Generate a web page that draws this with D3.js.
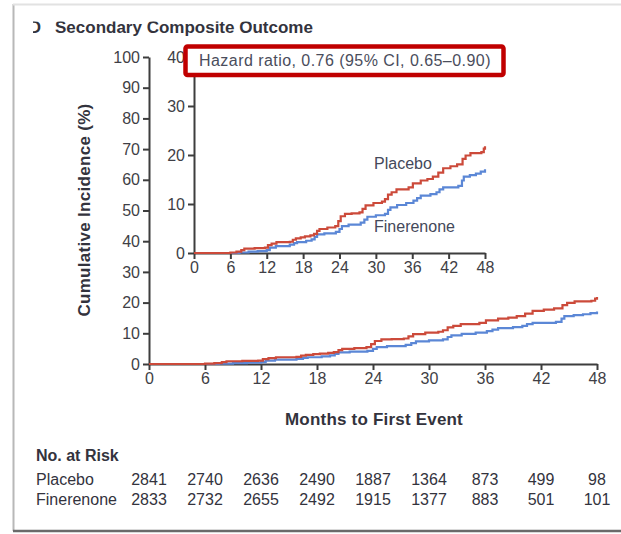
<!DOCTYPE html>
<html>
<head>
<meta charset="utf-8">
<script src="https://cdn.jsdelivr.net/npm/d3@7"></script>
<style>
    html, body { margin: 0; padding: 0; background: #fff; }
    svg { display: block; font-family: "Liberation Sans", Arial, sans-serif; }
    .tick text { fill: #3f3f46; font-size: 16px; }
</style>
</head>
<body>
<div id="chart"></div>
<script>
// Kaplan-Meier style data: [month, cumulative %]
const placebo = [
    [0, 0], [4, 0], [6, 0.1], [7, 0.3], [7.8, 0.6], [8.3, 0.9], [10, 1.0], [11.7, 1.1],
    [12.2, 1.6], [12.8, 1.9], [13.6, 2.2], [15.8, 2.3], [16.3, 2.7], [16.8, 3.0], [17.6, 3.2],
    [18.3, 3.4], [19.2, 3.6], [19.8, 3.9], [20.3, 4.5], [20.7, 4.9], [22, 5.2], [23.3, 5.5],
    [23.8, 6.5], [24.2, 7.5], [24.9, 8.0], [26, 8.1], [27.3, 8.3], [27.8, 9.0], [28.3, 9.7],
    [29.6, 10.2], [31, 10.5], [31.5, 11.0], [32, 11.9], [32.6, 12.4], [33.4, 13.0], [35.4, 13.4],
    [36.1, 14.2], [37.4, 14.8], [38.5, 15.1], [39.4, 15.6], [40.3, 16.4], [41.1, 17.3],
    [42.3, 17.7], [43.4, 18.1], [44.3, 19.2], [44.8, 19.9], [45.6, 20.4], [47.4, 20.6],
    [47.8, 21.3], [48, 21.8]
];

const finerenone = [
    [0, 0], [6, 0], [7.5, 0.1], [9, 0.3], [10.5, 0.4], [12, 0.6], [12.5, 1.1], [13.5, 1.4],
    [15.8, 1.7], [16.5, 2.0], [17, 2.2], [18.5, 2.5], [19.4, 2.8], [19.9, 3.3], [20.3, 3.8],
    [21.5, 4.0], [23.4, 4.3], [24, 4.9], [24.4, 5.5], [25.5, 5.8], [27.5, 6.2], [28.1, 6.8],
    [28.6, 7.4], [30, 7.7], [31.5, 8.0], [32, 8.8], [32.4, 9.3], [33.5, 9.8], [35, 10.2],
    [36.2, 10.7], [36.8, 11.2], [37.4, 11.7], [39, 12.0], [40, 12.4], [40.5, 13.0], [41.1, 13.4],
    [43.6, 13.7], [44.2, 14.8], [44.5, 15.6], [45.5, 15.9], [46.5, 16.2], [47.3, 16.6], [48, 17.1]
];

const monthTicks = [0, 6, 12, 18, 24, 30, 36, 42, 48];
const mainYTicks = [0, 10, 20, 30, 40, 50, 60, 70, 80, 90, 100];
const insetYTicks = [0, 10, 20, 30, 40];

const riskLabels = ['Placebo', 'Finerenone'];
const riskPlacebo = [2841, 2740, 2636, 2490, 1887, 1364, 873, 499, 98];
const riskFinerenone = [2833, 2732, 2655, 2492, 1915, 1377, 883, 501, 101];

const colors = { placebo: '#cc4a3a', finerenone: '#5b87d6', axis: '#3d3d3d', text: '#33333d' };

const width = 621;
const height = 534;

const svg = d3.select('#chart').append('svg')
    .attr('width', width)
    .attr('height', height);

svg.append('rect').attr('width', width).attr('height', height).attr('fill', '#fff');

// Panel frame (left / top / bottom edges of the cropped figure)
svg.append('line').attr('x1', 13.5).attr('x2', 13.5).attr('y1', 4).attr('y2', 531)
    .attr('stroke', '#b8b8b8').attr('stroke-width', 2);
svg.append('line').attr('x1', 13).attr('x2', width).attr('y1', 4.5).attr('y2', 4.5)
    .attr('stroke', '#e2e2e2').attr('stroke-width', 2);
svg.append('line').attr('x1', 13).attr('x2', width).attr('y1', 531).attr('y2', 531)
    .attr('stroke', '#6a6a6a').attr('stroke-width', 2.5);

// Title, clipped at the top like the source crop
svg.append('clipPath').attr('id', 'titleClip')
    .append('rect').attr('x', 33).attr('y', 21.5).attr('width', 400).attr('height', 20);
const title = svg.append('g').attr('clip-path', 'url(#titleClip)')
    .attr('font-weight', 'bold').attr('font-size', '17px').attr('fill', colors.text);
title.append('text').attr('x', 41).attr('y', 33).attr('text-anchor', 'end').text('D');
title.append('text').attr('x', 55).attr('y', 33).text('Secondary Composite Outcome');

/**
 * Draw one set of axes and the two curves (curves on top of the axes)
 */
function drawPanel(x, y, yTicks) {
    const g = svg.append('g');

    const xAxis = g.append('g')
        .attr('transform', `translate(0,${y(0)})`)
        .call(d3.axisBottom(x).tickValues(monthTicks).tickSize(6).tickSizeOuter(0).tickPadding(3));

    const yAxis = g.append('g')
        .attr('transform', `translate(${x(0)},0)`)
        .call(d3.axisLeft(y).tickValues(yTicks).tickSize(6).tickSizeOuter(0).tickPadding(3));

    [xAxis, yAxis].forEach(a => {
        a.attr('font-family', null).attr('font-size', null);
        a.selectAll('.domain, .tick line').attr('stroke', colors.axis).attr('stroke-width', 2);
    });

    const line = d3.line()
        .x(d => x(d[0]))
        .y(d => y(d[1]))
        .curve(d3.curveStepAfter);

    [[finerenone, colors.finerenone], [placebo, colors.placebo]].forEach(([data, c]) => {
        g.append('path')
            .datum(data)
            .attr('d', line)
            .attr('fill', 'none')
            .attr('stroke', c)
            .attr('stroke-width', 2.2);
    });

    return g;
}

// Main plot
const xMain = d3.scaleLinear().domain([0, 48]).range([149, 597]);
const yMain = d3.scaleLinear().domain([0, 100]).range([364, 57]);
drawPanel(xMain, yMain, mainYTicks);

// Inset plot
const xInset = d3.scaleLinear().domain([0, 48]).range([194, 485]);
const yInset = d3.scaleLinear().domain([0, 40]).range([253, 57]);
drawPanel(xInset, yInset, insetYTicks);

// Series labels in the inset
svg.append('text').attr('x', 374).attr('y', 169).attr('font-size', '16px')
    .attr('fill', '#44495a').text('Placebo');
svg.append('text').attr('x', 374).attr('y', 232).attr('font-size', '16px')
    .attr('fill', '#44495a').text('Finerenone');

// Hazard ratio box
svg.append('rect')
    .attr('x', 185.5).attr('y', 46.5).attr('width', 318).attr('height', 28.5).attr('rx', 2)
    .attr('fill', '#fff').attr('stroke', '#c00000').attr('stroke-width', 4.5);
svg.append('text').attr('x', 199).attr('y', 66).attr('font-size', '16px')
    .attr('letter-spacing', '0.45px')
    .attr('fill', '#4a4d5c').text('Hazard ratio, 0.76 (95% CI, 0.65\u20130.90)');

// Axis titles
svg.append('text')
    .attr('transform', 'translate(90,210) rotate(-90)')
    .attr('text-anchor', 'middle').attr('font-weight', 'bold').attr('font-size', '17px')
    .attr('letter-spacing', '0.3px')
    .attr('fill', colors.text).text('Cumulative Incidence (%)');
svg.append('text')
    .attr('x', 374).attr('y', 425)
    .attr('text-anchor', 'middle').attr('font-weight', 'bold').attr('font-size', '17px')
    .attr('letter-spacing', '0.2px')
    .attr('fill', colors.text).text('Months to First Event');

// Number at risk table
const table = svg.append('g').attr('font-size', '16px').attr('fill', colors.text);
table.append('text').attr('x', 36).attr('y', 461).attr('font-weight', 'bold').text('No. at Risk');

[riskPlacebo, riskFinerenone].forEach((row, i) => {
    const yRow = 485 + i * 19.5;
    table.append('text').attr('x', 36).attr('y', yRow).text(riskLabels[i]);
    table.selectAll(null)
        .data(row)
        .enter()
        .append('text')
        .attr('x', (d, j) => xMain(monthTicks[j]))
        .attr('y', yRow)
        .attr('text-anchor', 'middle')
        .text(d => d);
});
</script>
</body>
</html>
